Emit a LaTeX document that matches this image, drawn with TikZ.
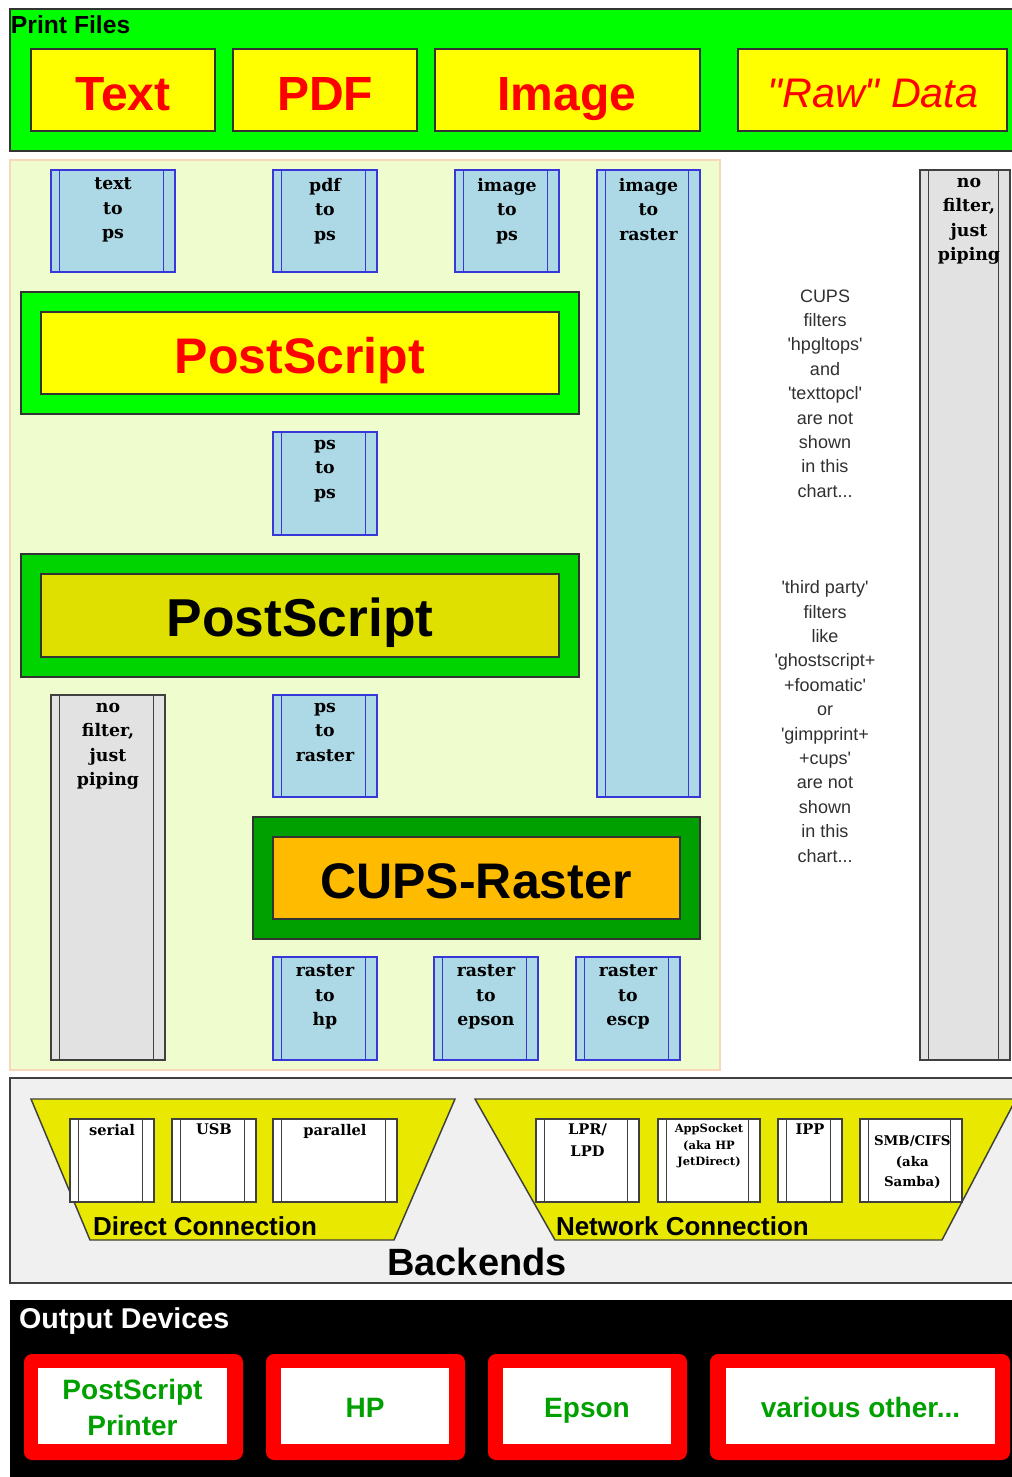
\documentclass[tikz,border=0pt]{standalone}
\usepackage{fontspec}
\setmainfont{Liberation Sans}
\newfontfamily\serf{DejaVu Serif}
\usetikzlibrary{fit,calc}

\definecolor{pgreen}{HTML}{00FF00}
\definecolor{pyellow}{HTML}{FFFF00}
\definecolor{dyellow}{HTML}{E0E000}
\definecolor{tyellow}{HTML}{E8E800}
\definecolor{mgreen}{HTML}{00D400}
\definecolor{cgreen}{HTML}{00A000}
\definecolor{corange}{HTML}{FFBB00}
\definecolor{lblue}{HTML}{ADD8E6}
\definecolor{fblue}{HTML}{3838D8}
\definecolor{lgray}{HTML}{E2E2E2}
\definecolor{dgray}{HTML}{404040}
\definecolor{regbg}{HTML}{EEFCCE}
\definecolor{regborder}{HTML}{F8D8B8}
\definecolor{bkbg}{HTML}{F0F0F0}
\definecolor{devgreen}{HTML}{00A000}
\definecolor{notegray}{HTML}{303030}

\newcommand\sq{\textquotesingle}

% #1 name, #2-#5 corners (px), #6 style prefix, #7 text, #8 text style, #9 text offset from top
\newcommand\filt[9]{%
  \node[#6box, fit={(#2,#3)(#4,#5)}] (#1) {};
  \draw[#6line] ($(#1.north west)+(8.5,0)$) -- ($(#1.south west)+(8.5,0)$);
  \draw[#6line] ($(#1.north east)+(-11.5,0)$) -- ($(#1.south east)+(-11.5,0)$);
  \node[#8, anchor=north] (#1-t) at ($(#1.north)+(0,#9)$) {#7};
}

\begin{document}
\begin{tikzpicture}[x=0.75pt,y=-0.75pt,
  every node/.style={inner sep=0pt,outer sep=0pt},
  frame/.style={draw=black!80,line width=1.3pt},
  greenpanel/.style={frame,fill=pgreen},
  yelbox/.style={frame,fill=pyellow},
  bigred/.style={text=red,font=\bfseries\fontsize{36}{40}\selectfont},
  region/.style={draw=regborder,line width=1pt,fill=regbg},
  bluebox/.style={draw=fblue,line width=1.3pt,fill=lblue},
  blueline/.style={draw=fblue,line width=1.3pt},
  graybox/.style={draw=dgray,line width=1.3pt,fill=lgray},
  grayline/.style={draw=dgray,line width=1.3pt},
  whitebox/.style={draw=dgray,line width=1.3pt,fill=white},
  whiteline/.style={draw=dgray,line width=1.3pt},
  ftext/.style={font=\serf\bfseries\fontsize{13}{18.4}\selectfont,align=center},
  btext/.style={font=\serf\bfseries\fontsize{11}{16.5}\selectfont,align=center},
  stext/.style={font=\serf\bfseries\fontsize{8.6}{12.4}\selectfont,align=center},
  mtext/.style={font=\serf\bfseries\fontsize{10}{15.4}\selectfont,align=center},
  note/.style={text=notegray,font=\fontsize{13.5}{18.3}\selectfont,align=center},
  trap/.style={draw=dgray,line width=1.1pt,fill=tyellow},
  devred/.style={fill=red,rounded corners=6pt},
  devwhite/.style={fill=white},
  devtext/.style={text=devgreen,font=\bfseries\fontsize{21}{27}\selectfont,align=center},
]
\useasboundingbox (0,0) rectangle (1012,1477);

% ---------- Print files ----------
\node[greenpanel, fit={(10,9)(1018,151)}] (pf) {};
\node[anchor=west,font=\bfseries\fontsize{18.5}{20}\selectfont] (pf-t) at (11,25) {Print Files};
\node[yelbox, fit={(31,49)(215,131)}] (ftext) {};
\node[yelbox, fit={(233,49)(417,131)}] (fpdf) {};
\node[yelbox, fit={(435,49)(700,131)}] (fimg) {};
\node[yelbox, fit={(738,49)(1007,131)}] (fraw) {};
\node[bigred, anchor=base] (ftext-t) at (123,110) {Text};
\node[bigred, anchor=base] (fpdf-t) at (325,110) {PDF};
\node[bigred, anchor=base] (fimg-t) at (567,110) {Image};
\node[text=red, font=\itshape\fontsize{31}{34}\selectfont, anchor=base] (fraw-t) at (873,108) {\textquotedbl Raw\textquotedbl\ Data};

% ---------- Filter region ----------
\node[region, fit={(10,160)(720,1070)}] (reg) {};

\filt{f1}{51}{170}{175}{272}{blue}{text\\to\\ps}{ftext}{8}
\filt{f2}{273}{170}{377}{272}{blue}{pdf\\to\\ps}{ftext}{8}
\filt{f3}{455}{170}{559}{272}{blue}{image\\to\\ps}{ftext}{8}
\filt{f4}{597}{170}{700}{797}{blue}{image\\to\\raster}{ftext}{8}

\node[greenpanel, fit={(21,292)(579,414)}] (ps1o) {};
\node[yelbox, fit={(41,312)(559,394)}] (ps1) {};
\node[text=red, font=\bfseries\fontsize{37.5}{40}\selectfont, anchor=base] (ps1-t) at (300,373) {PostScript};

\filt{f5}{273}{432}{377}{535}{blue}{ps\\to\\ps}{ftext}{8}

\node[frame, fill=mgreen, fit={(21,554)(579,677)}] (ps2o) {};
\node[frame, fill=dyellow, fit={(41,574)(559,657)}] (ps2) {};
\node[font=\bfseries\fontsize{40}{44}\selectfont, anchor=base] (ps2-t) at (300,636) {PostScript};

\filt{g1}{51}{695}{165}{1060}{gray}{no\\filter,\\just\\piping}{ftext}{8}
\filt{f6}{273}{695}{377}{797}{blue}{ps\\to\\raster}{ftext}{8}

\node[frame, fill=cgreen, fit={(253,817)(700,939)}] (cro) {};
\node[frame, fill=corange, fit={(273,837)(680,919)}] (cr) {};
\node[font=\bfseries\fontsize{37.5}{40}\selectfont, anchor=base] (cr-t) at (476,898) {CUPS-Raster};

\filt{f7}{273}{957}{377}{1060}{blue}{raster\\to\\hp}{ftext}{8}
\filt{f8}{434}{957}{538}{1060}{blue}{raster\\to\\epson}{ftext}{8}
\filt{f9}{576}{957}{680}{1060}{blue}{raster\\to\\escp}{ftext}{8}

% right side
\filt{g2}{920}{170}{1010}{1060}{gray}{no\\filter,\\just\\piping}{ftext,xshift=3pt}{8}

\node[note] (n1) at (825,393.5) {CUPS\\filters\\\sq hpgltops\sq\\and\\\sq texttopcl\sq\\are not\\shown\\in this\\chart...};
\node[note] (n2) at (825,721.5) {\sq third party\sq\\filters\\like\\\sq ghostscript+\\+foomatic\sq\\or\\\sq gimpprint+\\+cups\sq\\are not\\shown\\in this\\chart...};

% ---------- Backends ----------
\node[draw=dgray, line width=1.3pt, fill=bkbg, fit={(10,1078)(1018,1283)}] (bk) {};
\draw[trap] (31,1099) -- (455,1099) -- (394,1240) -- (90,1240) -- cycle;
\draw[trap] (475,1099) -- (1016,1099) -- (942,1240) -- (555,1240) -- cycle;
\node[anchor=west, font=\bfseries\fontsize{19.5}{22}\selectfont] (dc) at (93,1226) {Direct Connection};
\node[anchor=west, font=\bfseries\fontsize{19.5}{22}\selectfont] (nc) at (556,1226) {Network Connection};
\node[font=\bfseries\fontsize{28.5}{30}\selectfont] (bk-t) at (477,1262) {Backends};

\filt{b1}{70}{1119}{154}{1202}{white}{serial}{btext}{5}
\filt{b2}{172}{1119}{256}{1202}{white}{USB}{btext}{5}
\filt{b3}{273}{1119}{397}{1202}{white}{parallel}{btext}{5}
\filt{b4}{536}{1119}{639}{1202}{white}{LPR/\\LPD}{btext}{5}
\filt{b5}{658}{1119}{760}{1202}{white}{AppSocket\\(aka HP\\JetDirect)}{stext}{5}
\filt{b6}{778}{1119}{842}{1202}{white}{IPP}{btext}{5}
\filt{b7}{860}{1119}{962}{1202}{white}{SMB/CIFS\\(aka\\Samba)}{mtext,xshift=1pt}{17}

% ---------- Output devices ----------
\node[fill=black, fit={(10,1300)(1018,1480)}] (od) {};
\node[anchor=west, text=white, font=\bfseries\fontsize{21.5}{24}\selectfont] (od-t) at (19,1321) {Output Devices};

\node[devred, fit={(24,1354)(243,1460)}] (d1o) {};
\node[devwhite, fit={(38,1368)(227,1444)}] (d1) {};
\node[devtext] (d1-t) at (132.5,1407) {PostScript\\Printer};
\node[devred, fit={(266,1354)(465,1460)}] (d2o) {};
\node[devwhite, fit={(281,1368)(449,1444)}] (d2) {};
\node[devtext, anchor=base] (d2-t) at (365,1417) {HP};
\node[devred, fit={(488,1354)(687,1460)}] (d3o) {};
\node[devwhite, fit={(503,1368)(671,1444)}] (d3) {};
\node[devtext, anchor=base] (d3-t) at (587,1417) {Epson};
\node[devred, fit={(710,1354)(1010,1460)}] (d4o) {};
\node[devwhite, fit={(726,1368)(995,1444)}] (d4) {};
\node[devtext, anchor=base] (d4-t) at (860.5,1417) {various other...};
\end{tikzpicture}
\end{document}
